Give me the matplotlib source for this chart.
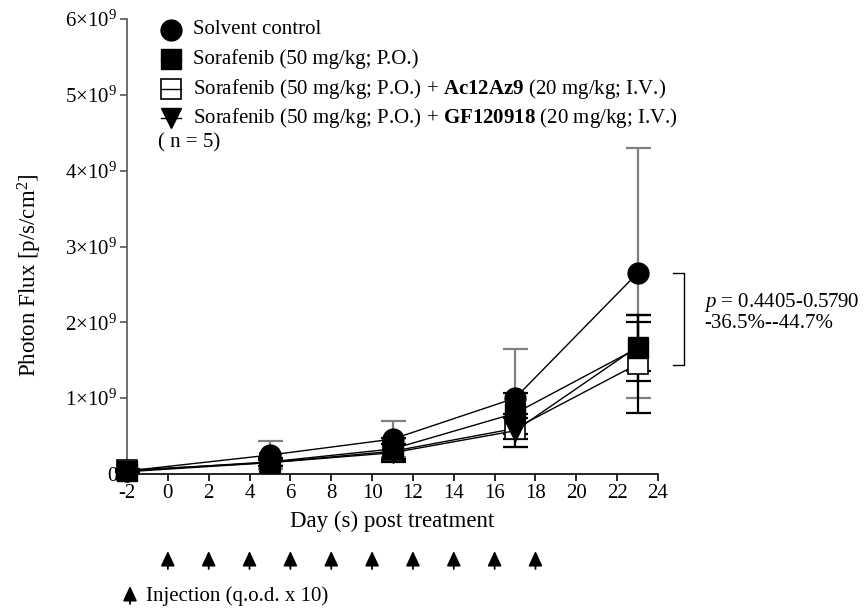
import matplotlib
matplotlib.use("Agg")
import matplotlib.pyplot as plt
from matplotlib.lines import Line2D
from matplotlib.patches import FancyArrowPatch
from matplotlib.transforms import blended_transform_factory

plt.rcParams["font.family"] = ["Liberation Serif", "DejaVu Serif"]
plt.rcParams["mathtext.fontset"] = "custom"
plt.rcParams["mathtext.rm"] = "Liberation Serif"
plt.rcParams["mathtext.it"] = "Liberation Serif:italic"
plt.rcParams["mathtext.bf"] = "Liberation Serif:bold"

# Tumour photon flux (x1e9 p/s/cm^2), mean and SEM per measurement day
days = [-2, 5, 11, 17, 23]
control = [0.04, 0.25, 0.46, 1.00, 2.65]
control_sem = [0.02, 0.18, 0.24, 0.65, 1.65]
sorafenib = [0.04, 0.16, 0.33, 0.80, 1.66]
sorafenib_sem = [0.01, 0.05, 0.15, 0.27, 0.44]
sora_ac12 = [0.05, 0.15, 0.30, 0.60, 1.45]
sora_ac12_sem = [0.01, 0.04, 0.10, 0.14, 0.65]
sora_gf = [0.03, 0.15, 0.28, 0.57, 1.68]
sora_gf_sem = [0.01, 0.04, 0.12, 0.22, 0.32]
scale = 1e9

injection_days = [0, 2, 4, 6, 8, 10, 12, 14, 16, 18]
x_ticks = list(range(-2, 25, 2))
y_ticks = [0, 1, 2, 3, 4, 5, 6]

labels = [
    "Solvent control",
    "Sorafenib (50 mg/kg; P.O.)",
    "Sorafenib (50 mg/kg; P.O.) + $\\bf{Ac12Az9}$ (20 mg/kg; I.V.)",
    "Sorafenib (50 mg/kg; P.O.) + $\\bf{GF120918}$ (20 mg/kg; I.V.)",
]

W, H = 864, 608
fig = plt.figure(figsize=(W / 100, H / 100), dpi=100)
ax = fig.add_axes([127 / W, 1 - 474 / H, (658 - 127) / W, (474 - 19) / H])


def fx(px):
    return px / W


def fy(py):
    return 1 - py / H


FS = 15
FS_LABEL = 16.5
ms = 15

marker_styles = {
    "control": dict(marker="o", mfc="black", mec="black"),
    "sorafenib": dict(marker="s", mfc="black", mec="black"),
    "ac12": dict(marker="s", mfc="white", mec="black", mew=1.2),
    "gf": dict(marker="v", mfc="black", mec="black"),
}

series = [
    (control, control_sem, marker_styles["control"], "#808080"),
    (sora_ac12, sora_ac12_sem, marker_styles["ac12"], "black"),
    (sorafenib, sorafenib_sem, marker_styles["sorafenib"], "black"),
    (sora_gf, sora_gf_sem, marker_styles["gf"], "black"),
]
for i, (vals, sem, mk, ecol) in enumerate(series):
    y = [v * scale for v in vals]
    e = [s * scale for s in sem]
    ax.errorbar(days, y, yerr=e, fmt="none", ecolor=ecol, elinewidth=1.6,
                capsize=9, capthick=1.6, clip_on=False, zorder=2 + 0.1 * i)
    ax.plot(days, y, color="black", lw=1.0, ms=ms, clip_on=False,
            zorder=3 + 0.1 * i, **mk)

ax.set_xlim(-2, 24)
ax.set_ylim(0, 6 * scale)
ax.set_xticks(x_ticks)
ax.set_xticklabels([str(t) for t in x_ticks], fontsize=FS)
ax.set_yticks([t * scale for t in y_ticks])
ax.set_yticklabels(["0"] + [f"${t}{{\\times}}10^{{9}}$" for t in y_ticks[1:]], fontsize=FS)
for s in ("top", "right"):
    ax.spines[s].set_visible(False)
ax.spines["left"].set_color("#555555")
ax.spines["left"].set_linewidth(1.2)
ax.spines["bottom"].set_linewidth(1.2)
ax.tick_params(axis="both", direction="out", length=5, width=1.2, pad=2)
ax.tick_params(axis="y", color="#555555")

ax.set_xlabel("Day (s) post treatment", fontsize=FS_LABEL)
ax.xaxis.set_label_coords(0.5, (474 - 521) / 455, transform=ax.transAxes)
ax.xaxis.label.set_va("center")
ax.set_ylabel("Photon Flux [p/s/cm$^{2}$]", fontsize=FS_LABEL)
ax.yaxis.set_label_coords((30 - 127) / 531, (474 - 275) / 455, transform=ax.transAxes)
ax.yaxis.label.set_va("center")

# legend: marker with a short line drawn over it, then the label
legend_rows = [30, 59, 89, 118]
for key, label, row in zip(("control", "sorafenib", "ac12", "gf"), labels, legend_rows):
    fig.add_artist(Line2D([fx(171)], [fy(row)], lw=0, ms=ms, transform=fig.transFigure,
                          **marker_styles[key]))
    fig.add_artist(Line2D([fx(161), fx(181)], [fy(row), fy(row)], color="black", lw=1.0,
                          transform=fig.transFigure))
    fig.text(fx(193), fy(row), label, fontsize=FS, va="center", ha="left")
fig.text(fx(158), fy(143), "( n = 5)", fontsize=FS, va="center", ha="left")

# significance bracket at the last time point
fig.add_artist(Line2D([fx(673), fx(684), fx(684), fx(673)],
                      [fy(273), fy(273), fy(365), fy(365)],
                      color="black", lw=1.0, transform=fig.transFigure))
fig.text(fx(704), fy(303), "$p$ = 0.4405-0.5790", fontsize=FS, va="center", ha="left")
fig.text(fx(704), fy(324), "-36.5%--44.7%", fontsize=FS, va="center", ha="left")

# injection schedule arrows
arrow_style = "-|>,head_length=0.9,head_width=0.42"
tr = blended_transform_factory(ax.transData, fig.transFigure)
for d in injection_days:
    ax.annotate("", xy=(d, fy(551)), xytext=(d, fy(569)),
                xycoords=tr, textcoords=tr,
                arrowprops=dict(arrowstyle=arrow_style, color="black", lw=1.3,
                                shrinkA=0, shrinkB=0))
fig.add_artist(FancyArrowPatch(
    (fx(130), fy(604)), (fx(130), fy(586)), transform=fig.transFigure,
    arrowstyle=arrow_style, mutation_scale=10, color="black", lw=1.3,
    shrinkA=0, shrinkB=0))
fig.text(fx(146), fy(596), "Injection (q.o.d. x 10)", fontsize=FS, va="center", ha="left")

fig.savefig("out.png", dpi=100)
